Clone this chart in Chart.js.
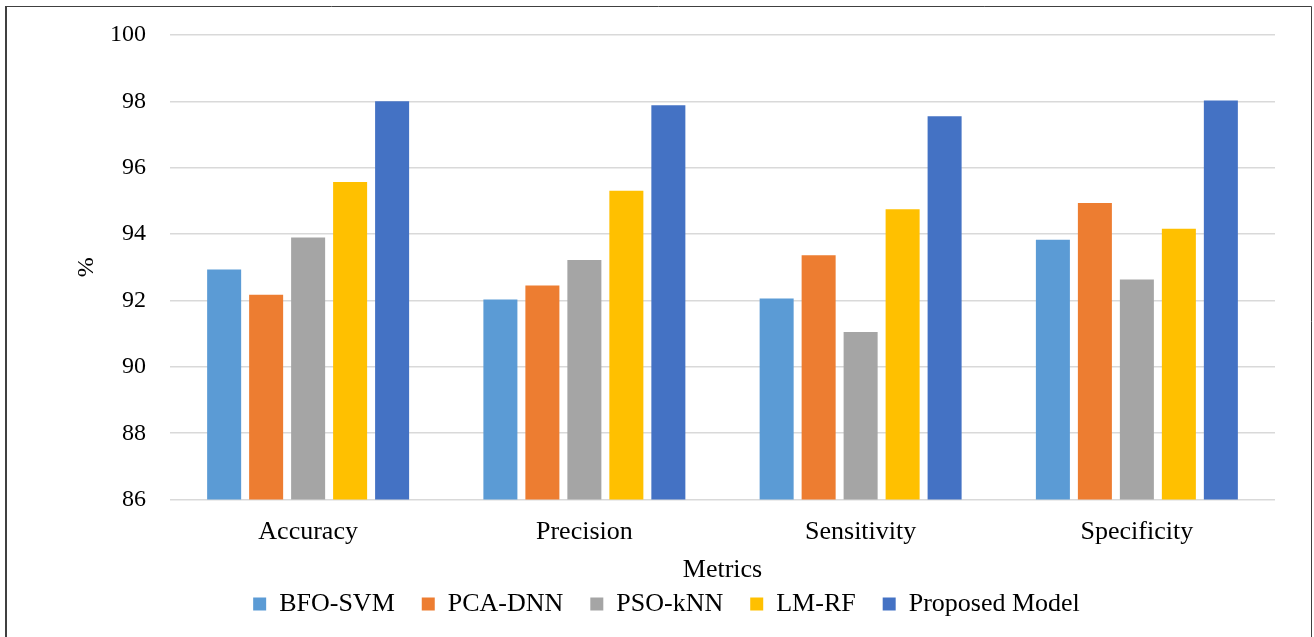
<!DOCTYPE html>
<html>
<head>
<meta charset="utf-8">
<script src="https://cdn.jsdelivr.net/npm/chart.js@4/dist/chart.umd.min.js"></script>
<style>
  html, body { margin: 0; padding: 0; background: #ffffff; }
  #wrap { position: relative; width: 1314px; height: 637px; }
</style>
</head>
<body>
<div id="wrap"><canvas id="c" width="1314" height="637"></canvas></div>
<script>
const categories = ['Accuracy', 'Precision', 'Sensitivity', 'Specificity'];
const seriesNames = ['BFO-SVM', 'PCA-DNN', 'PSO-kNN', 'LM-RF', 'Proposed Model'];
const bfoSvm   = [92.93, 92.03, 92.06, 93.83];
const pcaDnn   = [92.17, 92.45, 93.36, 94.94];
const psoKnn   = [93.90, 93.22, 91.05, 92.63];
const lmRf     = [95.57, 95.31, 94.75, 94.16];
const proposed = [98.00, 97.88, 97.55, 98.03];
const yTicks = [86, 88, 90, 92, 94, 96, 98, 100];
const colors = ['#5B9BD5', '#ED7D31', '#A5A5A5', '#FFC000', '#4472C4'];
const seriesValues = [bfoSvm, pcaDnn, psoKnn, lmRf, proposed];

const FONT = "'Liberation Serif', 'Times New Roman', serif";

const frameBorder = {
  id: 'frameBorder',
  afterDraw(chart) {
    const ctx = chart.ctx;
    ctx.save();
    ctx.strokeStyle = '#404040';
    ctx.lineWidth = 2;
    ctx.beginPath();
    ctx.moveTo(6, chart.height);
    ctx.lineTo(6, 6.5);
    ctx.stroke();
    ctx.lineWidth = 1;
    ctx.beginPath();
    ctx.moveTo(5, 6.5);
    ctx.lineTo(1311.5, 6.5);
    ctx.lineTo(1311.5, chart.height);
    ctx.stroke();
    ctx.restore();
  }
};

new Chart(document.getElementById('c'), {
  type: 'bar',
  data: {
    labels: categories,
    datasets: seriesNames.map((name, i) => ({
      label: name,
      data: seriesValues[i],
      backgroundColor: colors[i],
      borderWidth: 0,
      barPercentage: 0.81,
      categoryPercentage: 0.76
    }))
  },
  options: {
    responsive: false,
    animation: false,
    layout: { padding: { left: 58, right: 39, top: 35, bottom: 10 } },
    plugins: {
      tooltip: { enabled: false },
      legend: {
        position: 'bottom',
        labels: {
          font: { family: FONT, size: 26 },
          color: '#000000',
          boxWidth: 13,
          boxHeight: 13,
          padding: 27
        }
      }
    },
    scales: {
      y: {
        min: 86,
        max: 100,
        afterBuildTicks(scale) { scale.ticks = yTicks.map(v => ({ value: v })); },
        afterFit(scale) { scale.width = 112; scale.paddingTop = 0; },
        ticks: {
          font: { family: FONT, size: 24 },
          color: '#000000',
          padding: 24
        },
        grid: { color: '#d9d9d9', lineWidth: 1.5, drawTicks: false },
        border: { display: false },
        title: {
          display: true,
          text: '%',
          font: { family: FONT, size: 24 },
          color: '#000000',
          padding: { top: 14.6, bottom: 0 }
        }
      },
      x: {
        ticks: {
          font: { family: FONT, size: 26 },
          color: '#000000',
          padding: 17
        },
        grid: { display: false, drawTicks: false },
        border: { display: false },
        title: {
          display: true,
          text: 'Metrics',
          font: { family: FONT, size: 26 },
          color: '#000000',
          padding: { top: -10.4, bottom: -21.6 }
        }
      }
    }
  },
  plugins: [frameBorder]
});
</script>
</body>
</html>
